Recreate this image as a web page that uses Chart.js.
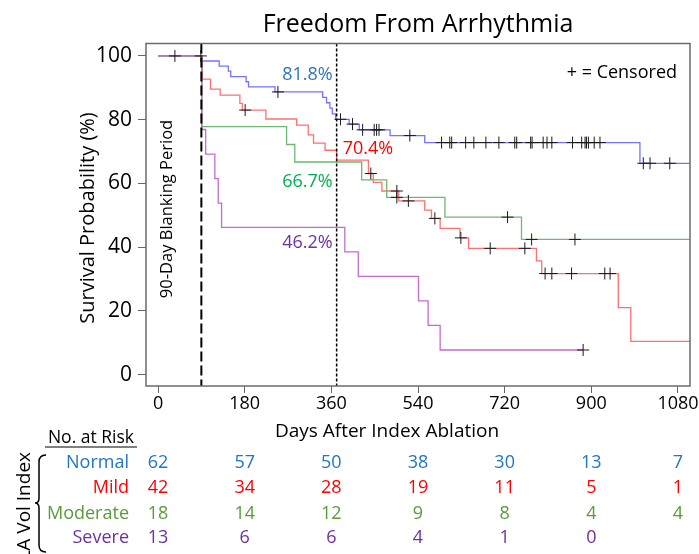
<!DOCTYPE html>
<html>
<head>
<meta charset="utf-8">
<title>Freedom From Arrhythmia</title>
<script src="https://cdn.jsdelivr.net/npm/chart.js@4.4.0/dist/chart.umd.min.js"></script>
<style>
  body { margin: 0; background: #fff; }
</style>
</head>
<body>
<canvas id="km" width="699" height="554"></canvas>
<script>
// Kaplan-Meier steps: day of each step and % free from arrhythmia after it
const normalDays = [0, 91, 127, 146, 151, 183, 188, 243, 342, 350, 357, 362, 369, 397, 418, 482, 554, 1001, 1105];
const normalSurv = [100, 98.4, 96.8, 95.2, 93.5, 91.9, 90.3, 88.7, 87.0, 85.3, 83.6, 81.8, 80.1, 78.6, 76.8, 75.0, 72.8, 66.3, 66.3];
const normalCensored = [35, 89, 249, 379, 404, 425, 449, 454, 459, 523, 589, 606, 610, 639, 656, 681, 708, 741, 745,
  774, 777, 800, 808, 818, 861, 880, 887, 890, 894, 906, 918, 1008, 1022, 1063];

const mildDays = [0, 92, 109, 129, 170, 175, 224, 288, 312, 323, 347, 371, 437, 447, 465, 500, 554, 568, 586, 627, 645, 786, 797, 956, 982, 1105];
const mildSurv = [100, 92.7, 89.6, 87.7, 85.1, 83.0, 80.2, 78.3, 75.2, 72.6, 70.4, 67.3, 63.1, 60.3, 57.6, 54.5, 51.6, 49.0, 45.9, 42.9, 39.6, 35.7, 31.7, 21.0, 10.4, 10.4];
const mildCensored = [181, 442, 496, 520, 575, 629, 690, 762, 804, 818, 859, 928, 939];

const moderateDays = [0, 91, 267, 284, 423, 475, 596, 755, 1105];
const moderateSurv = [100, 77.8, 72.2, 66.7, 61.1, 55.6, 49.4, 42.4, 42.4];
const moderateCensored = [496, 726, 776, 866];

const severeDays = [0, 91, 99, 118, 125, 132, 388, 416, 541, 561, 586, 883];
const severeSurv = [100, 76.9, 69.2, 61.5, 53.8, 46.2, 38.5, 30.8, 23.1, 15.4, 7.7, 7.7];
const severeCensored = [883];

// one-year estimates printed on the plot
const oneYearLabels = ["81.8%", "70.4%", "66.7%", "46.2%"];

const xTicks = [0, 180, 360, 540, 720, 900, 1080];
const yTicks = [0, 20, 40, 60, 80, 100];
const blankingDay = 90;
const oneYearDay = 371;

// number at risk table
const groups = ["Normal", "Mild", "Moderate", "Severe"];
const riskDays = [0, 180, 360, 540, 720, 900, 1080];
const normalAtRisk = [62, 57, 50, 38, 30, 13, 7];
const mildAtRisk = [42, 34, 28, 19, 11, 5, 1];
const moderateAtRisk = [18, 14, 12, 9, 8, 4, 4];
const severeAtRisk = [13, 6, 6, 4, 1, 0];

const FONT = "'Open Sans', sans-serif";
const lineColors = ["#7373ff", "#ff7070", "#6fb86f", "#c46ccc"];
const tableColors = ["#1f77c4", "#ff0000", "#5b9a3c", "#7030a0"];
const labelColors = ["#2e75b6", "#ff0000", "#00b050", "#7030a0"];

const survivalAt = (days, surv, t) => {
  let s = surv[0];
  for (let i = 0; i < days.length; i++) {
    if (days[i] <= t) s = surv[i];
  }
  return s;
};
const toPoints = (days, surv) => days.map((d, i) => ({ x: d, y: surv[i] }));
const toMarks = (days, surv, censored) => censored.map((t) => ({ x: t, y: survivalAt(days, surv, t) }));

const text = (ctx, str, px, py, size, color, align = "center", rot = 0) => {
  ctx.save();
  ctx.translate(px, py);
  ctx.rotate(rot);
  ctx.font = `${size}px ${FONT}`;
  ctx.fillStyle = color;
  ctx.textAlign = align;
  ctx.textBaseline = "middle";
  ctx.fillText(str, 0, 0);
  ctx.restore();
};

const vline = (ctx, px, a, dash, width) => {
  ctx.save();
  ctx.strokeStyle = "#000";
  ctx.lineWidth = width;
  ctx.setLineDash(dash);
  ctx.beginPath();
  ctx.moveTo(px, a.top);
  ctx.lineTo(px, a.bottom);
  ctx.stroke();
  ctx.restore();
};

const decorations = {
  id: "decorations",
  afterDatasetsDraw(chart) {
    const { ctx, chartArea: a, scales: { x } } = chart;
    vline(ctx, x.getPixelForValue(blankingDay), a, [10, 4], 2);
    vline(ctx, x.getPixelForValue(oneYearDay), a, [3, 2], 1.5);
  },
  afterDraw(chart) {
    const { ctx, chartArea: a, scales: { x, y } } = chart;

    // plot frame
    ctx.save();
    ctx.strokeStyle = "#6b6b6b";
    ctx.lineWidth = 1.5;
    ctx.strokeRect(a.left, a.top, a.right - a.left, a.bottom - a.top);
    ctx.restore();

    text(ctx, "Freedom From Arrhythmia", (a.left + a.right) / 2, 25, 25, "#000");
    text(ctx, "Days After Index Ablation", 387, 432, 19, "#000");
    text(ctx, "Survival Probability (%)", 88, 218, 20, "#000", "center", -Math.PI / 2);
    text(ctx, "90-Day Blanking Period", 167, 209, 16.5, "#000", "center", -Math.PI / 2);
    text(ctx, "+ = Censored", a.right - 13, 73, 18, "#000", "right");

    // one-year labels next to the dashed line
    const yr = x.getPixelForValue(oneYearDay);
    text(ctx, oneYearLabels[0], yr - 4, y.getPixelForValue(94), 18, labelColors[0], "right");
    text(ctx, oneYearLabels[1], yr + 6, y.getPixelForValue(70.7), 18, labelColors[1], "left");
    text(ctx, oneYearLabels[2], yr - 4, y.getPixelForValue(60.5), 18, labelColors[2], "right");
    text(ctx, oneYearLabels[3], yr - 4, y.getPixelForValue(41.2), 18, labelColors[3], "right");

    // number at risk
    text(ctx, "No. at Risk", 91, 438, 17.5, "#000");
    ctx.save();
    ctx.strokeStyle = "#000";
    ctx.lineWidth = 1.2;
    ctx.beginPath();
    ctx.moveTo(45, 447);
    ctx.lineTo(137, 447);
    ctx.stroke();
    ctx.restore();

    const rows = [normalAtRisk, mildAtRisk, moderateAtRisk, severeAtRisk];
    const rowY = [463, 488, 514, 538];
    rows.forEach((counts, r) => {
      text(ctx, groups[r], 129, rowY[r], 18, tableColors[r], "right");
      counts.forEach((n, i) => {
        text(ctx, String(n), x.getPixelForValue(riskDays[i]), rowY[r], 18, tableColors[r]);
      });
    });

    text(ctx, "LA Vol Index", 25, 452, 19, "#000", "right", -Math.PI / 2);

    // brace grouping the rows
    ctx.save();
    ctx.strokeStyle = "#000";
    ctx.lineWidth = 1.5;
    ctx.beginPath();
    ctx.moveTo(46, 455);
    ctx.quadraticCurveTo(39, 455, 39, 462);
    ctx.lineTo(39, 498);
    ctx.quadraticCurveTo(39, 503, 35, 503);
    ctx.quadraticCurveTo(39, 503, 39, 508);
    ctx.lineTo(39, 545);
    ctx.quadraticCurveTo(39, 552, 46, 552);
    ctx.stroke();
    ctx.restore();
  },
};

const allMarks = [
  ...toMarks(normalDays, normalSurv, normalCensored),
  ...toMarks(mildDays, mildSurv, mildCensored),
  ...toMarks(moderateDays, moderateSurv, moderateCensored),
  ...toMarks(severeDays, severeSurv, severeCensored),
];

const stepLine = (label, days, surv, color) => ({
  label: label,
  data: toPoints(days, surv),
  borderColor: color,
  borderWidth: 1.3,
  stepped: "before",
  pointRadius: 0,
  fill: false,
});

new Chart(document.getElementById("km"), {
  type: "line",
  data: {
    datasets: [
      {
        label: "Censored",
        data: allMarks,
        showLine: false,
        pointStyle: "cross",
        pointRadius: 6,
        pointBorderColor: "#1a1a1a",
        pointBorderWidth: 1,
      },
      stepLine(groups[3], severeDays, severeSurv, lineColors[3]),
      stepLine(groups[2], moderateDays, moderateSurv, lineColors[2]),
      stepLine(groups[1], mildDays, mildSurv, lineColors[1]),
      stepLine(groups[0], normalDays, normalSurv, lineColors[0]),
    ],
  },
  options: {
    responsive: false,
    animation: false,
    layout: { padding: { left: 0, top: 43.5, right: 9, bottom: 138 } },
    plugins: { legend: { display: false }, tooltip: { enabled: false } },
    scales: {
      x: {
        type: "linear",
        min: -25,
        max: 1105,
        afterBuildTicks: (s) => { s.ticks = xTicks.map((v) => ({ value: v })); },
        afterFit: (s) => { s.height = 30; s.paddingLeft = 0; s.paddingRight = 0; },
        grid: { drawOnChartArea: false, tickLength: 7, color: "#666" },
        border: { display: false },
        ticks: {
          font: { family: FONT, size: 18 },
          color: "#000",
          padding: 0,
          maxRotation: 0,
          autoSkip: false,
          callback: (v) => String(v),
        },
      },
      y: {
        min: -3.6,
        max: 103.9,
        afterBuildTicks: (s) => { s.ticks = yTicks.map((v) => ({ value: v })); },
        afterFit: (s) => { s.width = 146; s.paddingTop = 0; s.paddingBottom = 0; },
        grid: { drawOnChartArea: false, tickLength: 8, color: "#666" },
        border: { display: false },
        ticks: { font: { family: FONT, size: 21 }, color: "#000", padding: 6, autoSkip: false, callback: (v) => String(v) },
      },
    },
  },
  plugins: [decorations],
});
</script>
</body>
</html>
